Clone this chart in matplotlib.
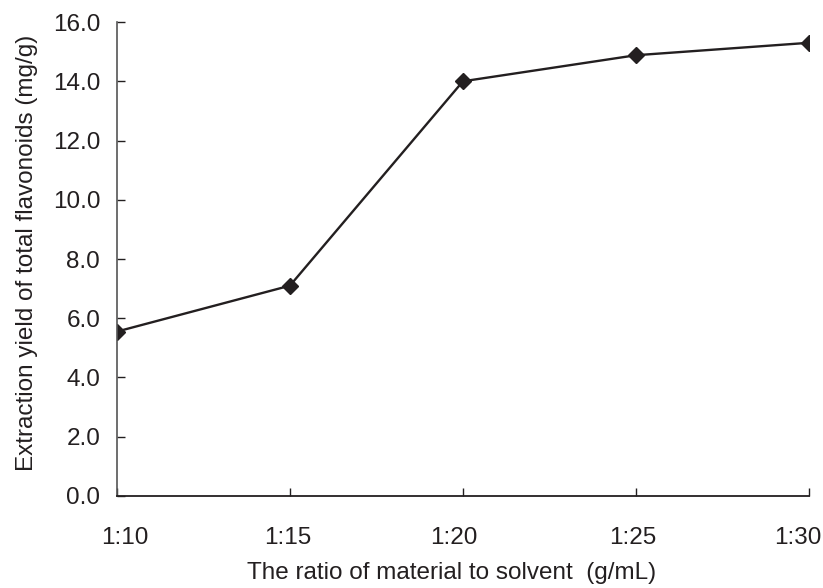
import matplotlib.pyplot as plt
from matplotlib.transforms import ScaledTranslation

# data
ratios = ["1:10", "1:15", "1:20", "1:25", "1:30"]
yields = [5.55, 7.1, 14.0, 14.88, 15.3]
y_ticks = [0, 2, 4, 6, 8, 10, 12, 14, 16]

ink = "#231f20"
plt.rcParams["font.family"] = ["Liberation Sans", "DejaVu Sans"]
fs = 17.5

fig = plt.figure(figsize=(8.23, 5.88), dpi=100)
ax = fig.add_axes([0.142, 0.1565, 0.841, 0.806])

x = list(range(len(ratios)))
ax.plot(x, yields, color=ink, linewidth=1.7, marker="D", markersize=8.5,
        markerfacecolor=ink, markeredgecolor=ink)

ax.set_xlim(0, len(ratios) - 1)
ax.set_ylim(0, 16)
ax.set_xticks(x)
ax.set_xticklabels(ratios)
ax.set_yticks(y_ticks)
ax.set_yticklabels([f"{v:.1f}" for v in y_ticks])

for side in ["top", "right"]:
    ax.spines[side].set_visible(False)
ax.spines["bottom"].set_color(ink)
ax.spines["bottom"].set_linewidth(1.3)
ax.spines["left"].set_color("#555555")
ax.spines["left"].set_linewidth(1.2)

ax.tick_params(axis="both", direction="in", length=6, width=1, colors=ink,
               labelsize=fs, labelcolor=ink)
ax.tick_params(axis="x", pad=22)
ax.tick_params(axis="y", pad=12)

# the category labels sit a little off their ticks in the original
shifts = [8, -2, -9, -3, -11]
for lab, dx in zip(ax.get_xticklabels(), shifts):
    lab.set_transform(lab.get_transform() + ScaledTranslation(dx / 100, 0, fig.dpi_scale_trans))

ax.set_xlabel("The ratio of material to solvent  (g/mL)", fontsize=fs, color=ink)
ax.xaxis.set_label_coords(0.483, -0.139)
ax.set_ylabel("Extraction yield of total flavonoids (mg/g)", fontsize=fs, color=ink)
ax.yaxis.set_label_coords(-0.1135, 0.513)

fig.savefig("out.png", dpi=100)
